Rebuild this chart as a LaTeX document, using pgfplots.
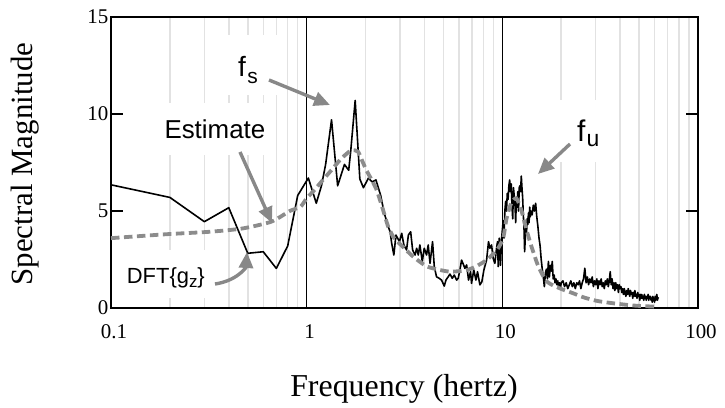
\documentclass[border=0pt]{standalone}
\usepackage{fontspec}
\setmainfont{Liberation Serif}
\newfontfamily\arial{Liberation Sans}
\usepackage{pgfplots}
\pgfplotsset{compat=1.18}
\usetikzlibrary{arrows.meta}
\definecolor{gridgray}{RGB}{226,226,226}
\definecolor{estgray}{RGB}{140,140,140}
\definecolor{arrgray}{RGB}{136,136,136}
\pgfplotstableread{
f v
0.1 6.35
0.2 5.70
0.3 4.45
0.4 5.17
0.5 2.82
0.6 2.90
0.7 2.04
0.8 3.20
0.9 5.80
1.02 6.70
1.12 5.40
1.19 6.30
1.25 7.40
1.34 9.70
1.44 6.30
1.56 7.40
1.64 7.10
1.68 8.10
1.77 10.70
1.87 6.65
1.95 6.20
2.07 6.70
2.16 6.50
2.26 6.60
2.39 5.80
2.49 4.90
2.61 4.20
2.67 3.93
2.72 3.33
2.79 2.73
2.86 3.76
2.98 3.42
3.06 3.85
3.14 3.25
3.24 2.99
3.31 3.76
3.40 3.93
3.48 2.99
3.58 2.73
3.65 3.08
3.72 2.73
3.79 3.25
3.90 2.39
3.99 3.08
4.10 2.73
4.18 3.25
4.27 2.30
4.40 3.42
4.49 2.13
4.61 1.61
4.76 1.53
4.89 1.44
5.05 1.13
5.15 1.44
5.29 1.61
5.40 1.75
5.55 1.53
5.68 1.70
5.84 1.44
5.95 1.53
6.07 1.96
6.19 2.47
6.31 2.27
6.44 2.04
6.57 2.22
6.72 1.44
6.88 1.87
6.96 1.27
7.15 1.96
7.33 1.44
7.47 1.87
7.68 1.19
7.86 1.35
8.05 1.96
8.31 2.47
8.50 3.42
8.64 3.08
8.81 3.25
8.98 2.56
9.16 2.30
9.34 3.08
9.45 3.42
9.53 2.13
9.64 3.60
9.79 2.20
9.90 3.50
10.1 4.50
10.2 3.60
10.3 5.00
10.4 5.50
10.5 5.00
10.6 5.90
10.7 5.60
10.8 6.30
10.9 6.60
11.0 6.00
11.1 6.40
11.2 5.30
11.3 4.60
11.4 6.20
11.5 5.80
11.6 5.40
11.7 4.40
11.8 5.70
11.9 5.20
12.0 6.00
12.1 5.00
12.2 6.20
12.3 6.30
12.4 6.00
12.5 6.80
12.6 6.20
12.7 5.70
12.8 4.80
12.9 4.20
13.0 2.90
13.1 3.60
13.2 4.20
13.3 3.90
13.4 4.60
13.5 4.30
13.6 4.90
13.7 4.40
13.8 5.20
13.9 4.70
14.0 5.00
14.2 4.80
14.4 5.30
14.6 5.00
14.8 5.40
15.0 4.70
15.2 4.20
15.4 3.60
15.6 3.20
15.8 2.50
16.0 2.00
16.2 1.60
16.4 1.10
16.6 1.80
16.8 2.00
17.0 1.50
17.2 2.40
17.4 1.60
17.6 2.20
17.8 1.90
18.0 2.40
18.2 1.50
18.4 1.70
18.6 1.30
18.8 1.50
19.0 1.20
19.2 1.40
19.4 1.10
19.6 1.30
19.8 1.00
20.0 1.30
20.4 1.40
20.8 1.10
21.2 1.30
21.6 1.00
22.0 1.20
22.4 1.40
22.8 1.10
23.2 1.30
23.6 1.00
24.0 1.30
24.4 1.20
24.8 1.40
25.2 1.00
25.6 1.30
26.0 1.50
26.4 2.05
26.8 1.30
27.2 1.60
27.6 1.20
28.0 1.50
28.4 1.30
28.8 1.60
29.2 1.10
29.6 1.40
30.0 1.20
30.4 1.50
30.8 1.00
31.2 1.40
31.6 1.20
32.0 1.50
32.4 1.10
32.8 1.30
33.2 1.00
33.6 1.40
34.0 1.20
34.4 1.50
34.8 1.10
35.2 1.40
35.6 1.87
36.0 1.20
36.4 1.50
36.8 1.00
37.2 1.30
37.6 0.90
38.0 1.30
38.4 1.00
38.8 1.20
39.2 0.80
39.6 1.20
40.0 1.00
40.4 1.10
40.8 0.80
41.2 1.00
41.6 0.70
42.0 1.00
42.4 0.80
42.8 0.60
43.2 0.90
43.6 0.70
44.0 1.00
44.4 0.80
44.8 0.60
45.2 0.90
45.6 0.70
46.0 0.80
46.4 0.50
46.8 0.80
47.2 0.60
47.6 0.90
48.0 0.60
48.4 0.70
48.8 0.50
49.2 0.80
49.6 0.60
50.0 0.70
50.4 0.40
50.8 0.70
51.2 0.50
51.6 0.70
52.0 0.50
52.4 0.60
52.8 0.40
53.2 0.70
53.6 0.50
54.0 0.60
54.4 0.40
54.8 0.60
55.2 0.50
55.6 0.70
56.0 0.40
56.4 0.60
56.8 0.50
57.2 0.60
57.6 0.40
58.0 0.50
58.4 0.30
58.8 0.60
59.2 0.40
59.6 0.50
60.0 0.30
60.4 0.60
60.8 0.40
61.2 0.50
61.6 0.70
62.0 0.40
62.4 0.50
62.8 0.55
}\dftdata
\pgfplotstableread{
f v
0.1 3.60
0.19 3.80
0.32 3.93
0.47 4.10
0.66 4.45
0.82 5.00
0.93 5.22
1.0 5.65
1.1 6.10
1.21 6.60
1.35 7.15
1.48 7.63
1.6 7.95
1.7 8.14
1.83 8.06
1.92 7.60
2.02 7.10
2.15 6.60
2.28 6.08
2.45 5.10
2.61 4.19
2.8 3.60
3.1 3.16
3.5 2.65
4.1 2.15
4.8 1.96
5.4 1.87
6.0 1.90
6.6 1.96
7.3 2.13
8.3 2.47
9.4 3.00
10.1 3.60
10.5 4.60
11.1 5.40
11.8 5.65
12.5 5.05
13.3 4.02
14.1 3.16
15.3 2.13
16.9 1.36
19.7 1.01
23 0.76
26 0.55
30 0.38
34 0.29
40 0.20
48 0.12
60 0.07
}\estdata
\begin{document}
\begin{tikzpicture}
\useasboundingbox (-111bp,-100bp) rectangle (614bp,308bp);
\begin{axis}[
  at={(0,0)}, anchor=south west,
  scale only axis, width=587bp, height=291bp,
  xmode=log, xmin=0.1, xmax=100, ymin=0, ymax=15,
  xtick={0.1,1,10,100}, xticklabels={0.1,1,10,100},
  ytick={0,5,10,15},
  xmajorgrids, xminorgrids,
  major x grid style={black, line width=1.2bp},
  minor x grid style={gridgray, line width=1.5bp},
  xtick style={draw=none},
  minor x tick style={draw=none},
  ytick style={black, line width=1.2bp},
  tick align=inside, major tick length=12bp,
  axis line style={line width=1.8bp},
  /pgf/number format/assume math mode=true,
  tick label style={font=\fontsize{21}{21}\selectfont, inner sep=0pt},
  xticklabel style={anchor=base, yshift=-30bp, xshift=3bp},
  yticklabel style={anchor=east, xshift=-2.5bp},
  clip=false,
]
\addplot[black, line width=1.6bp, line join=round] table[x=f, y=v] {\dftdata};
\addplot[estgray, line width=3.8bp, line cap=butt, dash pattern=on 8.5bp off 4.5bp, smooth, tension=0.4] table[x=f, y=v] {\estdata};
\end{axis}
% white label boxes
\fill[white] (105bp,213bp) rectangle (174bp,273bp);
\fill[white] (47bp,153bp) rectangle (164bp,205bp);
\fill[white] (437bp,146bp) rectangle (499bp,208bp);
\fill[white] (7bp,10bp) rectangle (107bp,58bp);
% axis labels
\node[rotate=90, anchor=base, inner sep=0pt, font=\fontsize{31}{31}\selectfont] at (-78bp,144bp) {Spectral Magnitude};
\node[anchor=base, inner sep=0pt, font=\fontsize{32}{32}\selectfont] at (293bp,-88.7bp) {Frequency (hertz)};
% annotations
\node[anchor=base west, inner sep=0pt, font=\arial\fontsize{26}{26}\selectfont] at (53.3bp,169.7bp) {Estimate};
\node[anchor=base west, inner sep=0pt, font=\arial] at (127bp,231bp) {\fontsize{28}{28}\selectfont f\hspace{1.5bp}\raisebox{-7bp}{\fontsize{21}{21}\selectfont s}};
\node[anchor=base west, inner sep=0pt, font=\arial] at (466bp,166bp) {\fontsize{30}{30}\selectfont f\hspace{1bp}\raisebox{-5bp}{\fontsize{23}{23}\selectfont u}};
\node[anchor=base west, inner sep=0pt, font=\arial] at (15.7bp,24.7bp) {\fontsize{22}{22}\selectfont DFT\{g\raisebox{-4bp}{\fontsize{17}{17}\selectfont z}\}};
% arrows
\draw[arrgray, line width=3.4bp, -{Triangle[length=16bp,width=14bp]}] (158bp,228bp) -- (219bp,203bp);
\draw[arrgray, line width=3.4bp, -{Triangle[length=16bp,width=14bp]}] (459bp,164bp) -- (427bp,134bp);
\draw[arrgray, line width=3.4bp, -{Triangle[length=16bp,width=14bp]}] (129bp,156bp) -- (161bp,85bp);
\draw[arrgray, line width=3.4bp, -{Triangle[length=16bp,width=14bp]}] (104bp,24bp) .. controls (125bp,27bp) and (135bp,40bp) .. (136bp,56bp);
\end{tikzpicture}
\end{document}
